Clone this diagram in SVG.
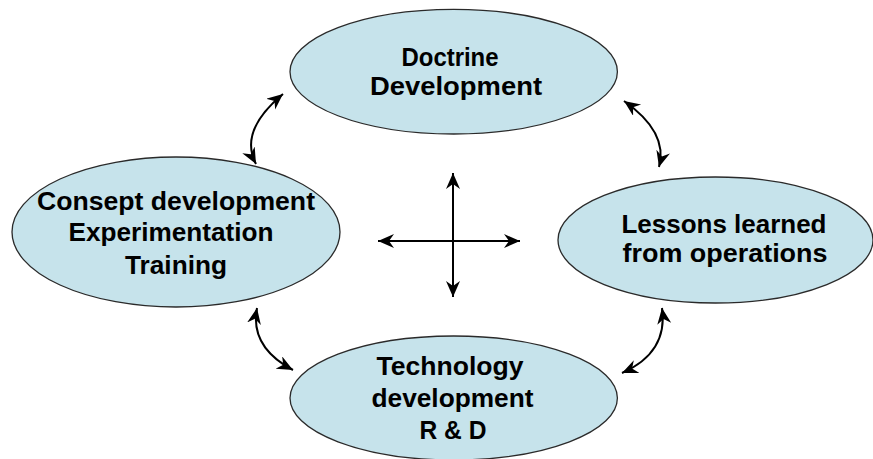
<svg xmlns="http://www.w3.org/2000/svg" width="873" height="459" viewBox="0 0 873 459">
<style>
.node ellipse{fill:#C6E3EB;stroke:#2a2a2a;stroke-width:1.3}
.node text{font-family:"Liberation Sans",Arial,sans-serif;font-weight:bold;font-size:25px;fill:#000;text-anchor:middle}
.conn path{fill:none;stroke:#000;stroke-width:2;marker-start:url(#ah);marker-end:url(#ah)}
</style>
<defs>
<marker id="ah" markerUnits="userSpaceOnUse" markerWidth="18" markerHeight="16" refX="16" refY="7" orient="auto-start-reverse" viewBox="0 0 18 16">
<path d="M0,0 L16,7 L0,14 L5,7 z" fill="#000"/>
</marker>
</defs>
<rect width="873" height="459" fill="#fff"/>
<g id="doctrine" class="node">
<ellipse cx="453.7" cy="71.7" rx="163.7" ry="62.3"/>
<text x="450" y="66" textLength="97" lengthAdjust="spacingAndGlyphs">Doctrine</text>
<text x="456" y="95" textLength="172" lengthAdjust="spacingAndGlyphs">Development</text>
</g>
<g id="consept" class="node">
<ellipse cx="176" cy="232" rx="164" ry="75"/>
<text x="176" y="210" textLength="278" lengthAdjust="spacingAndGlyphs">Consept development</text>
<text x="171" y="241" textLength="205" lengthAdjust="spacingAndGlyphs">Experimentation</text>
<text x="176" y="274" textLength="102" lengthAdjust="spacingAndGlyphs">Training</text>
</g>
<g id="lessons" class="node">
<ellipse cx="715.5" cy="240" rx="157.5" ry="63"/>
<text x="724" y="233" textLength="205" lengthAdjust="spacingAndGlyphs">Lessons learned</text>
<text x="725" y="262" textLength="205" lengthAdjust="spacingAndGlyphs">from operations</text>
</g>
<g id="technology" class="node">
<ellipse cx="453.7" cy="398" rx="163.7" ry="62"/>
<text x="450" y="375" textLength="147" lengthAdjust="spacingAndGlyphs">Technology</text>
<text x="452.5" y="407" textLength="162" lengthAdjust="spacingAndGlyphs">development</text>
<text x="453" y="439" textLength="67" lengthAdjust="spacingAndGlyphs">R &amp; D</text>
</g>
<g id="connectors" class="conn">
<path d="M256,164 Q238.5,131 283,94"/>
<path d="M624,101 Q668.5,132 659,167"/>
<path d="M257,308 Q249.5,347 293,370"/>
<path d="M662,308 Q668.3,352.6 622,373"/>
<path d="M453,173 L453,297"/>
<path d="M378,241 L520,241"/>
</g>
</svg>
